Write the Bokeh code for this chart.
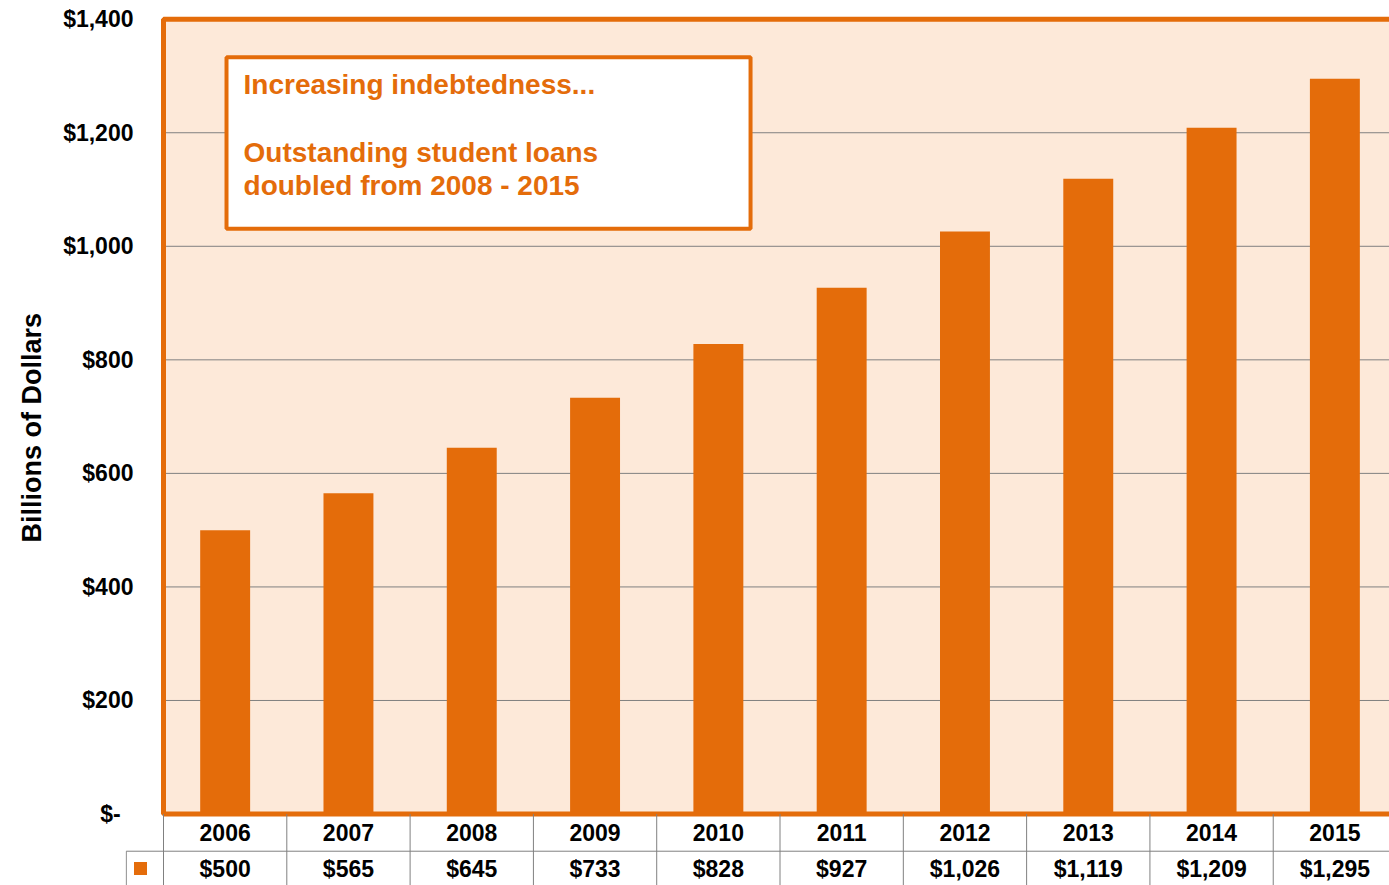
from bokeh.plotting import figure
from bokeh.models import Range1d, FixedTicker, ColumnDataSource, Title
from bokeh.core.properties import value
from bokeh.embed import file_html
from bokeh.resources import INLINE

# ---- data ----
years = ["2006", "2007", "2008", "2009", "2010", "2011", "2012", "2013", "2014", "2015"]
loans = [500, 565, 645, 733, 828, 927, 1026, 1119, 1209, 1295]
y_ticks = [0, 200, 400, 600, 800, 1000, 1200, 1400]
y_tick_labels = ["$-\u00a0\u00a0", "$200", "$400", "$600", "$800", "$1,000", "$1,200", "$1,400"]
note_lines = ["Increasing indebtedness...", "Outstanding student loans", "doubled from 2008 - 2015"]
y_title = "Billions of Dollars"

ORANGE = "#E46C0A"
PEACH = "#FDE9D9"
GRID = "#808080"
FONT = value("Liberation Sans")

n = len(years)
x_pos = [i + 0.5 for i in range(n)]

p = figure(width=1389, height=885, output_backend="svg", toolbar_location=None,
           x_range=Range1d(-0.3082, 9.943), y_range=Range1d(-125.9, 1406.5),
           x_axis_location=None, min_border_left=125, min_border_right=0,
           min_border_top=15, min_border_bottom=0)
p.outline_line_color = None
p.xgrid.visible = False
p.ygrid.visible = False
p.background_fill_color = "white"
p.border_fill_color = "white"

# y axis
ax = p.yaxis[0]
ax.ticker = FixedTicker(ticks=y_ticks)
ax.major_label_overrides = {t: l for t, l in zip(y_ticks, y_tick_labels)}
ax.axis_line_color = None
ax.major_tick_line_color = None
ax.minor_tick_line_color = None
ax.major_tick_out = 0
ax.major_label_standoff = -8
ax.major_label_text_font = "Liberation Sans"
ax.major_label_text_font_style = "bold"
ax.major_label_text_font_size = "23px"
ax.major_label_text_color = "black"

# y axis title, centred on the chart area (not the table)
p.add_layout(Title(text=y_title, align="left", offset=343, standoff=27,
                   text_font="Liberation Sans", text_font_style="bold",
                   text_font_size="27px", text_color="black"), "left")

top = y_ticks[-1]

# plot area background
p.quad(left=[0], right=[n], bottom=[0], top=[top], fill_color=PEACH, line_color=None)

# grid lines
grid_vals = y_ticks[1:-1]
p.segment(x0=[0] * len(grid_vals), x1=[n] * len(grid_vals), y0=grid_vals, y1=grid_vals,
          line_color=GRID, line_width=1)

# bars
src = ColumnDataSource(dict(x=x_pos, top=loans, year=years))
p.vbar(x="x", top="top", bottom=0, width=0.405, source=src, fill_color=ORANGE, line_color=None)

# plot area border
p.quad(left=[0], right=[n], bottom=[0], top=[top], fill_color=None, line_color=ORANGE, line_width=5)

# annotation box
p.quad(left=[0.511], right=[4.761], bottom=[1031], top=[1333], fill_color="white",
       line_color=ORANGE, line_width=4)
p.text(x=[0.649] * 3, y=[1285, 1165, 1107], text=note_lines, text_font=FONT,
       text_font_style="bold", text_font_size="28px", text_color=ORANGE,
       text_baseline="middle", text_align="left")

# data table
row_div = -65.5
bottom = -125.9
p.segment(x0=list(range(n + 1)), x1=list(range(n + 1)), y0=[0] * (n + 1), y1=[bottom] * (n + 1),
          line_color=GRID, line_width=1)
p.segment(x0=[-0.302], x1=[-0.302], y0=[row_div], y1=[bottom], line_color=GRID, line_width=1)
p.segment(x0=[-0.302], x1=[n], y0=[row_div], y1=[row_div], line_color=GRID, line_width=1)

p.text(x=x_pos, y=[-32.6] * n, text=years, text_font=FONT, text_font_style="bold",
       text_font_size="23px", text_color="black", text_align="center", text_baseline="middle")
p.text(x=x_pos, y=[-96] * n, text=[f"${v:,}" for v in loans], text_font=FONT,
       text_font_style="bold", text_font_size="23px", text_color="black",
       text_align="center", text_baseline="middle")
p.scatter(x=[-0.1865], y=[-96], marker="square", size=13, fill_color=ORANGE, line_color=None)

open("out.html", "w").write(file_html(p, INLINE))
